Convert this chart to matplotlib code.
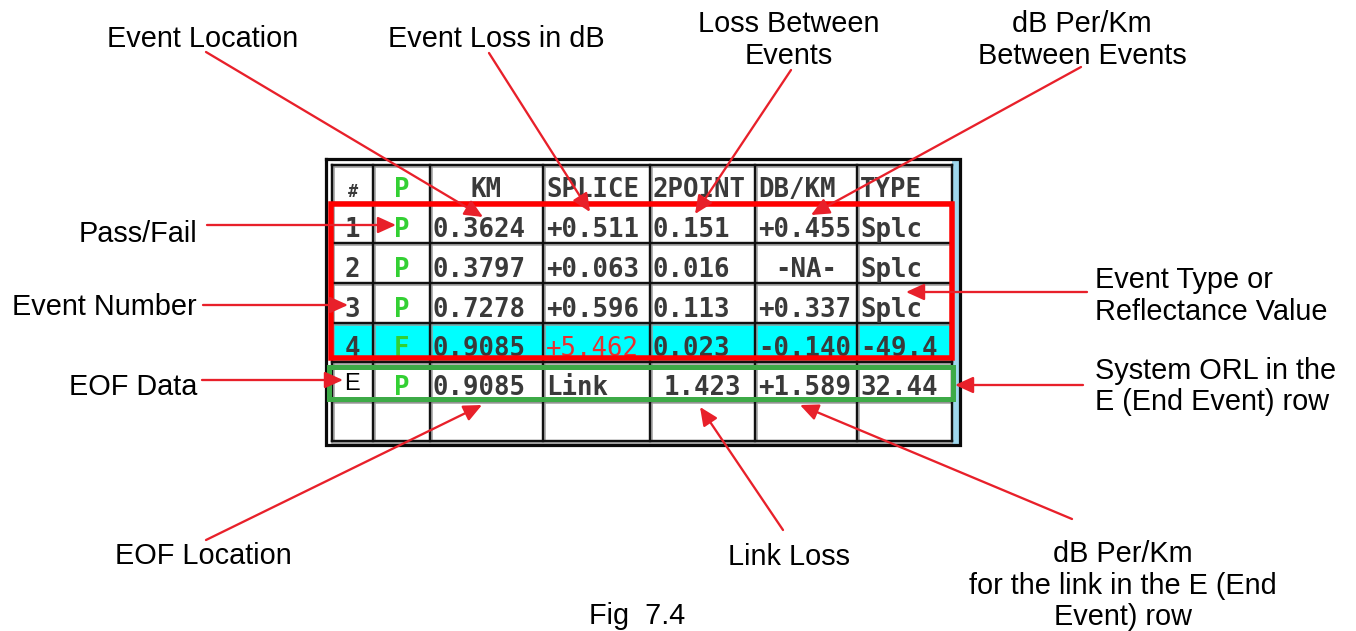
import matplotlib
matplotlib.use("Agg")
import matplotlib.pyplot as plt
from matplotlib.patches import Rectangle

# ---------------- data ----------------
headers = ["#", "P", "KM", "SPLICE", "2POINT", "DB/KM", "TYPE"]
event_num = ["1", "2", "3", "4", "E", ""]
pass_fail = ["P", "P", "P", "F", "P", ""]
km = ["0.3624", "0.3797", "0.7278", "0.9085", "0.9085", ""]
splice = ["+0.511", "+0.063", "+0.596", "+5.462", "Link", ""]
two_point = ["0.151", "0.016", "0.113", "0.023", "1.423", ""]
db_km = ["+0.455", "-NA-", "+0.337", "-0.140", "+1.589", ""]
ev_type = ["Splc", "Splc", "Splc", "-49.4", "32.44", ""]

labels_top = ["Event Location", "Event Loss in dB", "Loss Between\nEvents",
              "dB Per/Km\nBetween Events"]
labels_left = ["Pass/Fail", "Event Number", "EOF Data"]
labels_right = ["Event Type or\nReflectance Value", "System ORL in the\nE (End Event) row"]
labels_bottom = ["EOF Location", "Link Loss", "dB Per/Km\nfor the link in the E (End\nEvent) row"]
caption = "Fig  7.4"

# ---------------- layout / style ----------------
W, H = 1356, 631
fig = plt.figure(figsize=(W / 100, H / 100), dpi=100)
ax = fig.add_axes([0, 0, 1, 1])
ax.set_xlim(0, W)
ax.set_ylim(H, 0)
ax.axis("off")

PX = 0.72  # points per pixel
LABEL_FONT = dict(family=["Liberation Sans", "DejaVu Sans"], fontsize=20.8, color="black")
CELL_FONT = dict(family="DejaVu Sans Mono", fontsize=18.5, fontweight="bold", color="#3a3a3a")
ARROW_RED = "#E8202A"
BOX_RED = "#FF0000"
BOX_GREEN = "#3DAA47"
GREEN_TXT = "#33D033"
CYAN = "#00FFFF"

col_edges = [332, 373, 430, 543, 650, 755, 857, 952]
row_edges = [165, 203, 243, 283, 323, 362, 401, 441]

# table background / frame
ax.add_patch(Rectangle((326, 159), 634, 287, facecolor="white", edgecolor="none", zorder=1))
# cyan row (event 4)
ax.add_patch(Rectangle((col_edges[0], row_edges[4]), col_edges[-1] - col_edges[0],
                       row_edges[5] - row_edges[4], facecolor=CYAN, edgecolor="none", zorder=1.5))
# light blue strip at right
ax.add_patch(Rectangle((952, 159), 7, 287, facecolor="#9FD8EE", edgecolor="none", zorder=1.6))

# grid lines (black with grey bevel)
for x in col_edges[:-1]:
    ax.plot([x + 2, x + 2], [row_edges[0], row_edges[-1]], color="#9a9a9a", lw=1.5 * PX, zorder=2)
    ax.plot([x, x], [row_edges[0], row_edges[-1]], color="#111111", lw=2.4 * PX, zorder=2.1)
ax.plot([col_edges[-1], col_edges[-1]], [row_edges[0], row_edges[-1]], color="#111111", lw=2.4 * PX, zorder=2.1)
for y in row_edges:
    ax.plot([col_edges[0], col_edges[-1]], [y + 2, y + 2], color="#9a9a9a", lw=1.5 * PX, zorder=2)
    ax.plot([col_edges[0], col_edges[-1]], [y, y], color="#111111", lw=2.4 * PX, zorder=2.1)
# outer frame
ax.plot([326, 960, 960, 326, 326], [159, 159, 445, 445, 159], color="#0a0a0a", lw=3.2 * PX,
        zorder=2.2, solid_joinstyle="miter")

# header texts
header_align = ["center", "center", "center", "left", "left", "left", "left"]
for j, h in enumerate(headers):
    x0, x1 = col_edges[j], col_edges[j + 1]
    xt = (x0 + x1) / 2 if header_align[j] == "center" else x0 + 3
    kw = dict(CELL_FONT)
    if j == 0:
        kw["fontsize"] = 12
    if j == 1:
        kw["color"] = GREEN_TXT
    ax.text(xt, row_edges[1] - 6, h, ha=header_align[j], va="baseline", zorder=3, **kw)

# body texts
columns = [event_num, pass_fail, km, splice, two_point, db_km, ev_type]
for i in range(len(event_num)):
    yb = row_edges[i + 2] - 6
    for j, col in enumerate(columns):
        s = col[i]
        if not s:
            continue
        x0, x1 = col_edges[j], col_edges[j + 1]
        kw = dict(CELL_FONT)
        align = "left"
        if j in (0, 1) or s == "-NA-" or (j == 4 and event_num[i] == "E"):
            align = "center"
        if j == 1:
            kw["color"] = GREEN_TXT
        if j == 3 and pass_fail[i] == "F":
            kw["color"] = "#E83030"
            kw["fontweight"] = "normal"
        ybb = yb
        if j == 0 and s == "E":
            kw = dict(family=["Liberation Sans", "DejaVu Sans"], fontsize=17, color="black")
            ybb = row_edges[i + 2] - 11
        xt = (x0 + x1) / 2 if align == "center" else x0 + 3
        ax.text(xt, ybb, s, ha=align, va="baseline", zorder=3, **kw)

# highlight boxes
ax.add_patch(Rectangle((331, 204), 952 - 331, 358 - 204, facecolor="none", edgecolor=BOX_RED,
                       lw=5.5 * PX, zorder=4, joinstyle="miter"))
ax.add_patch(Rectangle((329, 367), 953 - 329, 399 - 367, facecolor="none", edgecolor=BOX_GREEN,
                       lw=5 * PX, zorder=4, joinstyle="miter"))

# ---------------- labels ----------------
def put_lines(text, x, y0, ha, step=31.5):
    for k, line in enumerate(text.split("\n")):
        ax.text(x, y0 + k * step, line, ha=ha, va="baseline", zorder=5, **LABEL_FONT)

put_lines(labels_top[0], 203, 47, "center")
put_lines(labels_top[1], 496, 47, "center")
put_lines(labels_top[2], 789, 32, "center")
put_lines(labels_top[3], 1082, 32, "center")
put_lines(labels_left[0], 197, 242, "right")
put_lines(labels_left[1], 197, 315, "right")
put_lines(labels_left[2], 197, 395, "right")
put_lines(labels_right[0], 1095, 288, "left")
put_lines(labels_right[1], 1095, 379, "left")
put_lines(labels_bottom[0], 203, 564, "center")
put_lines(labels_bottom[1], 789, 565, "center")
put_lines(labels_bottom[2], 1123, 562, "center")
put_lines(caption, 637, 624, "center")

# ---------------- arrows ----------------
arrows = [
    ((206, 52), (483, 217)),
    ((489, 53), (590, 212)),
    ((791, 70), (695, 214)),
    ((1081, 67), (811, 215)),
    ((207, 225), (396, 225)),
    ((203, 305), (348, 305)),
    ((202, 380), (343, 380)),
    ((1087, 292), (906, 292)),
    ((1083, 385), (955, 385)),
    ((206, 540), (482, 405)),
    ((783, 530), (700, 407)),
    ((1072, 519), (800, 405)),
]
for start, tip in arrows:
    ax.annotate("", xy=tip, xytext=start, xycoords="data", textcoords="data", zorder=6,
                arrowprops=dict(arrowstyle="-|>,head_length=0.55,head_width=0.25",
                                mutation_scale=20, color=ARROW_RED, lw=2.3 * PX,
                                shrinkA=0, shrinkB=0))

fig.savefig("out.png", dpi=100)
